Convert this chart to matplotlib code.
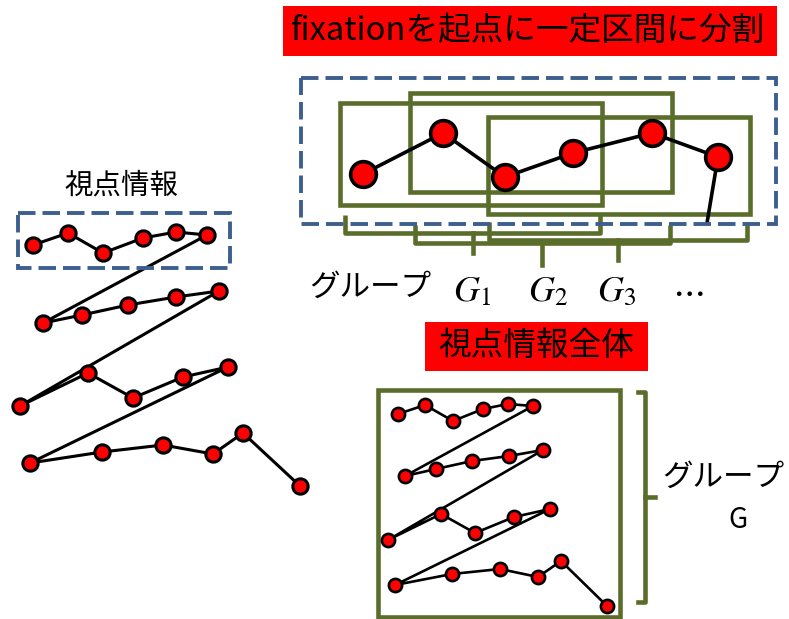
import matplotlib
matplotlib.use("Agg")
import matplotlib.pyplot as plt
from matplotlib.patches import Rectangle

plt.rcParams["font.family"] = ["Noto Sans CJK JP", "DejaVu Sans"]
plt.rcParams["mathtext.fontset"] = "stix"

RED, GREEN, BLUE, INK = "#ff0000", "#5b6d2b", "#3d5f8f", "black"

# scanpath in fixation order (pixel coords of the original slide)
left_x = [33, 68, 103, 143, 176, 207, 43, 82, 128, 176, 219,
          20, 88, 133, 183, 228, 30, 102, 163, 213, 243, 300]
left_y = [245, 233, 253, 238, 232, 235, 323, 315, 305, 297, 291,
          406, 373, 398, 377, 367, 463, 452, 445, 454, 433, 486]

# same scanpath, shrunk inside the "whole" box
whole_x = [398, 425, 453, 483, 508, 533, 405, 436, 472, 509, 543,
           388, 441, 475, 514, 550, 395, 452, 500, 538, 561, 607]
whole_y = [414, 405, 421, 409, 404, 406, 476, 469, 461, 456, 450,
           540, 514, 533, 517, 509, 585, 574, 569, 577, 561, 606]

# magnified first row + the saccade leaving the window
zoom_x = [363, 443, 505, 573, 652, 718]
zoom_y = [174, 133, 177, 153, 133, 157]
tail_x = [718, 707]
tail_y = [157, 223]

group_labels = ["$G_1$", "$G_2$", "$G_3$", r"$\cdots$"]
group_pos = [472, 548, 616, 688]

fig = plt.figure(figsize=(7.89, 6.19), dpi=100)
ax = fig.add_axes([0, 0, 1, 1])
ax.set_xlim(0, 789); ax.set_ylim(619, 0)
ax.axis("off")


def box(x0, y0, x1, y1, **kw):
    ax.add_patch(Rectangle((x0, y0), x1 - x0, y1 - y0, fill=False, **kw))


def scan(xs, ys, ms, lw, z=4):
    ax.plot(xs, ys, color=INK, lw=lw, zorder=z)
    ax.plot(xs, ys, ls="none", marker="o", ms=ms, mfc=RED, mec=INK,
            mew=lw, zorder=z + 1)


def bracket(x0, x1, ytop, yh, xm, ystem):
    ax.plot([x0, x0, x1, x1], [ytop, yh, yh, ytop], color=GREEN, lw=3.3,
            solid_joinstyle="round", solid_capstyle="butt", zorder=3)
    ax.plot([xm, xm], [yh, ystem], color=GREEN, lw=3.3, zorder=3)


# ---- left: raw gaze data
ax.text(121, 186, "視点情報", fontsize=20.5, ha="center", va="center")
box(18, 213, 230, 268, ec=BLUE, lw=2.8, ls=(0, (4.5, 1.8)), zorder=6)
scan(left_x, left_y, 11, 2.2)

# ---- top right: split into windows starting at each fixation
ax.add_patch(Rectangle((283, 6), 494, 50, fc=RED, ec="none"))
ax.text(291, 31, "fixationを起点に一定区間に分割", fontsize=23.5,
        ha="left", va="center")
box(301, 78, 776, 224, ec=BLUE, lw=2.8, ls=(0, (4.5, 1.8)), zorder=6)
ax.plot(tail_x, tail_y, color=INK, lw=2.6, zorder=4)
scan(zoom_x, zoom_y, 18.5, 2.6)
for x0, y0, x1, y1 in [(340, 103, 602, 205), (410, 93, 672, 192),
                       (488, 117, 750, 214)]:
    box(x0, y0, x1, y1, ec=GREEN, lw=3.3, zorder=3)

bracket(345, 600, 215, 233, 473, 253)
bracket(415, 670, 225, 243, 542, 265)
bracket(489, 747, 222, 240, 618, 260)

ax.text(370, 287, "グループ", fontsize=22, ha="center", va="center")
for lab, gx in zip(group_labels, group_pos):
    ax.text(gx, 291, lab, fontsize=26, ha="center", va="center")

# ---- bottom right: whole gaze data as one group
ax.add_patch(Rectangle((425, 322), 223, 49, fc=RED, ec="none"))
ax.text(536, 346, "視点情報全体", fontsize=23.5, ha="center", va="center")
box(378, 390, 620, 617, ec=GREEN, lw=3.3, zorder=3)
scan(whole_x, whole_y, 9.5, 1.9)
ax.plot([638, 645, 645, 638], [392, 392, 602, 602], color=GREEN, lw=3.3,
        solid_joinstyle="round", zorder=3)
ax.plot([645, 655], [497, 497], color=GREEN, lw=3.3, zorder=3)
ax.text(723, 477, "グループ", fontsize=22, ha="center", va="center")
ax.text(738, 520, "G", fontsize=20, ha="center", va="center")

fig.savefig("out.png", dpi=100, facecolor="white")
